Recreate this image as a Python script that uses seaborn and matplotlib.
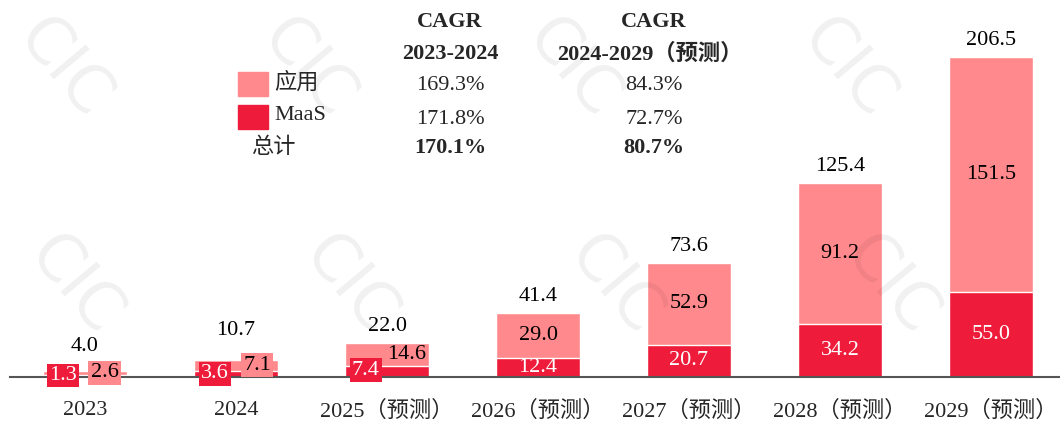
import matplotlib
matplotlib.use("Agg")
import matplotlib.pyplot as plt
import seaborn as sns
import pandas as pd

## data ##
years = ["2023", "2024", "2025（预测）", "2026（预测）", "2027（预测）", "2028（预测）", "2029（预测）"]
maas = [1.3, 3.6, 7.4, 12.4, 20.7, 34.2, 55.0]
app = [2.6, 7.1, 14.6, 29.0, 52.9, 91.2, 151.5]
total = [4.0, 10.7, 22.0, 41.4, 73.6, 125.4, 206.5]

cagr_rows = ["应用", "MaaS", "总计"]
cagr_2324 = ["169.3%", "171.8%", "170.1%"]
cagr_2429 = ["84.3%", "72.7%", "80.7%"]

## style ##
PINK = "#FF898D"
RED = "#EE1C3A"
sns.set_style("white")
plt.rcParams['font.family'] = ['Liberation Serif', 'Noto Sans CJK SC', 'DejaVu Sans']

df = pd.DataFrame({"year": years, "maas": maas, "app": app, "total": total})

fig = plt.figure(figsize=(10.6, 4.25), dpi=100)
ax = fig.add_axes([0, 48/425, 1, 377/425])

# stacked bars: total first, MaaS over it
sns.barplot(data=df, x="year", y="total", color=PINK, width=0.55, saturation=1, ax=ax, zorder=2)
sns.barplot(data=df, x="year", y="maas", color=RED, width=0.55, saturation=1, ax=ax, zorder=3)

ax.set_xlim(-0.563, 6.457)
ax.set_ylim(0, 243.2)
ax.set_xlabel("")
ax.set_ylabel("")
ax.set_yticks([])
ax.tick_params(axis="x", length=0, pad=17, labelsize=16)
sns.despine(ax=ax, left=True, top=True, right=True)
ax.spines['bottom'].set_color("#555555")
ax.spines['bottom'].set_linewidth(1.5)
ax.spines['bottom'].set_bounds(-0.497, 6.457)
ax.spines['bottom'].set_zorder(4)

# faint watermark, tiled (kept inside the picture)
for wx, wy in [(0.06, 0.84), (0.29, 0.84), (0.54, 0.84), (0.8, 0.84),
               (0.07, 0.33), (0.33, 0.33), (0.58, 0.33), (0.84, 0.33)]:
    ax.text(wx, wy, "CIC", fontsize=46,
            color="black", alpha=0.06, rotation=-50, ha="center", va="center",
            family="DejaVu Sans", transform=fig.transFigure, zorder=4, clip_on=False)

# value labels
small_offsets = {0: (-0.146, 0.8, 0.13, 2.6), 1: (-0.14, 2.0, 0.14, 7.7), 2: (-0.14, 4.5, 0.13, 14.2)}
total_pos = {0: 19.4, 1: 30.3}
for i in range(len(years)):
    if i in small_offsets:
        mx, my, axx, ay = small_offsets[i]
        ax.text(i + mx, my, f"{maas[i]:.1f}", ha="center", va="center", fontsize=16, color="white",
                zorder=6, bbox=dict(boxstyle="square,pad=0.1", fc=RED, ec="none"))
        if i < 2:
            ax.text(i + axx, ay, f"{app[i]:.1f}", ha="center", va="center", fontsize=16, color="black",
                    zorder=5, bbox=dict(boxstyle="square,pad=0.1", fc=PINK, ec="none"))
        else:
            ax.text(i + axx, ay, f"{app[i]:.1f}", ha="center", va="center", fontsize=16, color="black", zorder=5)
    else:
        ax.text(i, maas[i] / 2, f"{maas[i]:.1f}", ha="center", va="center", fontsize=16, color="white", zorder=5)
        ax.text(i, maas[i] + app[i] / 2, f"{app[i]:.1f}", ha="center", va="center", fontsize=16, color="black", zorder=5)
    ty = total_pos.get(i, total[i] + 10.3)
    ax.text(i, ty, f"{total[i]:.1f}", ha="center", va="center", fontsize=16, color="black", zorder=5)

# CAGR table with legend squares (pixel positions from top-left)
def fx(px):
    return px / 1060
def fy(py):
    return 1 - py / 425

fig.text(fx(450), fy(22), "CAGR", ha="center", va="center", fontsize=16, fontweight="bold")
fig.text(fx(450), fy(54), "2023-2024", ha="center", va="center", fontsize=16, fontweight="bold")
fig.text(fx(654), fy(22), "CAGR", ha="center", va="center", fontsize=16, fontweight="bold")
fig.text(fx(650), fy(54), "2024-2029（预测）", ha="center", va="center", fontsize=16, fontweight="bold")

row_y = [85, 119, 148]
for k, name in enumerate(cagr_rows):
    weight = "bold" if k == 2 else "normal"
    fig.text(fx(450), fy(row_y[k]), cagr_2324[k], ha="center", va="center", fontsize=16, fontweight=weight)
    fig.text(fx(654), fy(row_y[k]), cagr_2429[k], ha="center", va="center", fontsize=16, fontweight=weight)
    if k < 2:
        fig.patches.append(plt.Rectangle((fx(238), fy([96, 129][k])), fx(30), 24/425,
                                         transform=fig.transFigure, color=[PINK, RED][k], zorder=1))
        fig.text(fx(274), fy([83, 116][k]), name, ha="left", va="center", fontsize=16)
    else:
        fig.text(fx(273), fy(row_y[k]), name, ha="center", va="center", fontsize=16)

plt.savefig("out.png", dpi=100)
